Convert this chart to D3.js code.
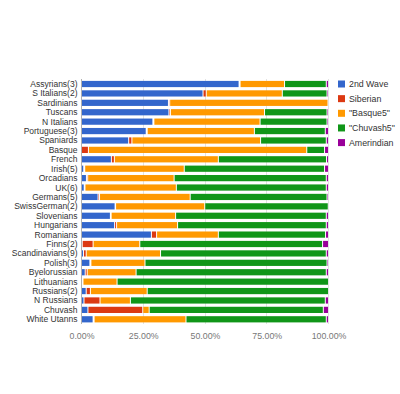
<!DOCTYPE html>
<html>
<head>
<meta charset="utf-8">
<script src="https://cdn.jsdelivr.net/npm/d3@7"></script>
<style>
  html, body { margin: 0; padding: 0; background: #fff; }
  svg { display: block; font-family: Arial, "Liberation Sans", sans-serif; }
</style>
</head>
<body>
<svg id="chart" width="400" height="394"></svg>
<script>
const categories = ["Assyrians(3)","S Italians(2)","Sardinians","Tuscans","N Italians","Portuguese(3)","Spaniards","Basque","French","Irish(5)","Orcadians","UK(6)","Germans(5)","SwissGerman(2)","Slovenians","Hungarians","Romanians","Finns(2)","Scandinavians(9)","Polish(3)","Byelorussian","Lithuanians","Russians(2)","N Russians","Chuvash","White Utanns"];
const wave2      = [63.8, 49.2, 35.2, 35.4, 28.9, 26.2, 19.1, 0.0, 12.1, 0.9, 2.0, 1.1, 6.7, 13.6, 11.7, 13.4, 28.3, 0.3, 0.8, 3.4, 1.5, 0.3, 1.9, 1.0, 2.6, 4.7];
const siberian   = [0.4, 1.3, 0.5, 0.6, 0.4, 0.4, 1.3, 2.8, 1.2, 0.4, 0.5, 0.3, 0.6, 0.2, 0.3, 0.8, 2.1, 4.4, 1.1, 0.4, 0.8, 0.3, 1.7, 6.5, 22.2, 0.4];
const basque5    = [18.0, 30.8, 64.1, 38.1, 43.0, 43.4, 52.1, 88.4, 42.1, 40.3, 35.0, 37.0, 36.7, 36.1, 26.1, 24.7, 25.0, 18.9, 30.1, 21.9, 19.8, 13.8, 23.0, 12.3, 2.6, 37.2];
const chuvash5   = [16.9, 18.1, 0.0, 25.3, 27.1, 28.7, 26.6, 7.2, 43.8, 56.8, 61.6, 60.7, 55.4, 50.0, 61.0, 60.2, 43.4, 74.0, 67.1, 73.7, 77.0, 85.6, 73.4, 78.9, 70.5, 56.8];
const amerindian = [0.9, 0.6, 0.2, 0.6, 0.6, 1.3, 0.9, 1.6, 0.8, 1.6, 0.9, 0.9, 0.6, 0.1, 0.9, 0.9, 1.2, 2.4, 0.9, 0.6, 0.9, 0.0, 0.0, 1.3, 2.1, 0.9];
const seriesNames = ["2nd Wave", "Siberian", "\"Basque5\"", "\"Chuvash5\"", "Amerindian"];
const seriesColors = ["#3366cc", "#dc3912", "#ff9900", "#109618", "#990099"];
const tickValues = [0, 0.25, 0.5, 0.75, 1];
const tickLabels = ["0.00%", "25.00%", "50.00%", "75.00%", "100.00%"];

const seriesData = [wave2, siberian, basque5, chuvash5, amerindian];
const rows = categories.map((c, i) => {
  const r = { category: c };
  seriesNames.forEach((s, j) => { r[s] = seriesData[j][i]; });
  return r;
});

const svg = d3.select("#chart");
const plotLeft = 81.5, plotRight = 328.5, plotTop = 79.3, plotBottom = 324;

const x = d3.scaleLinear().domain([0, 1]).range([plotLeft, plotRight]);
const y = d3.scaleBand().domain(categories).range([plotTop, plotBottom]).paddingInner(0.34).paddingOuter(0.17);

const stack = d3.stack().keys(seriesNames).offset(d3.stackOffsetExpand);
const stacked = stack(rows);

// gridlines
svg.append("g").selectAll("line")
  .data(tickValues)
  .join("line")
  .attr("x1", d => x(d)).attr("x2", d => x(d))
  .attr("y1", plotTop).attr("y2", plotBottom)
  .attr("stroke", d => d === 0 ? "#b0b0b0" : "#e2e2e2")
  .attr("stroke-width", 1)
  .attr("shape-rendering", "crispEdges");

// bars
const layer = svg.append("g").selectAll("g")
  .data(stacked)
  .join("g")
  .attr("fill", (d, i) => seriesColors[i]);

layer.selectAll("rect")
  .data(d => d)
  .join("rect")
  .attr("x", d => x(d[0]) + 0.5)
  .attr("y", d => y(d.data.category))
  .attr("width", d => Math.max(0, x(d[1]) - x(d[0]) - 1))
  .attr("height", y.bandwidth());

// category labels
svg.append("g").selectAll("text")
  .data(categories)
  .join("text")
  .attr("x", 77.5)
  .attr("y", d => y(d) + y.bandwidth() / 2)
  .attr("dy", "0.35em")
  .attr("text-anchor", "end")
  .attr("font-size", 8.5)
  .attr("fill", "#333")
  .text(d => d);

// x axis
const xAxis = d3.axisBottom(x)
  .tickValues(tickValues)
  .tickFormat((d, i) => tickLabels[i])
  .tickSize(0)
  .tickPadding(9);
const ax = svg.append("g").attr("transform", `translate(0,${plotBottom})`).call(xAxis);
ax.select(".domain").remove();
ax.selectAll("text").attr("font-size", 8.8).attr("fill", "#777").attr("font-family", "Arial, 'Liberation Sans', sans-serif");

// legend
const legend = svg.append("g").selectAll("g")
  .data(seriesNames)
  .join("g")
  .attr("transform", (d, i) => `translate(338,${84 + i * 14.65})`);
legend.append("rect")
  .attr("x", 0).attr("y", -3.5).attr("width", 7).attr("height", 7)
  .attr("fill", (d, i) => seriesColors[i]);
legend.append("text")
  .attr("x", 11).attr("y", 0).attr("dy", "0.35em")
  .attr("font-size", 8.8)
  .attr("fill", "#333")
  .text(d => d);
</script>
</body>
</html>
